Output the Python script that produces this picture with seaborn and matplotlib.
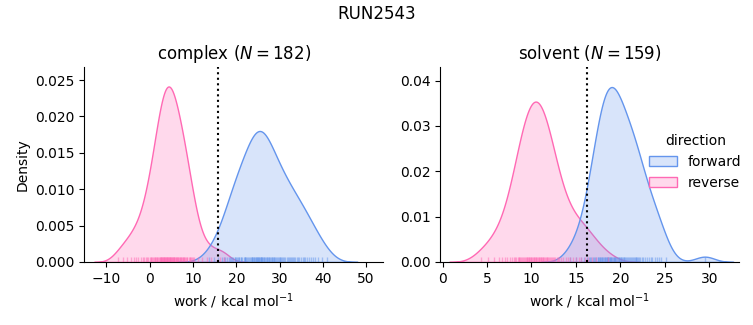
import matplotlib
matplotlib.use("Agg")
import matplotlib.pyplot as plt
import pandas as pd
import seaborn as sns

complex_forward = [
    13.6, 14.8, 15.7, 16.7, 17.1, 17.4, 17.9, 18.3, 18.6, 18.7, 19.0, 19.2, 19.6, 19.8, 19.9,
    20.2, 20.4, 20.6, 20.7, 21.0, 21.2, 21.4, 21.7, 21.9, 22.0, 22.1,
    22.3, 22.5, 22.7, 23.0, 23.2, 23.4,
    23.55, 23.6, 23.7, 23.85, 24.0, 24.15, 24.3, 24.45,
    24.6, 24.75, 24.9, 25.0, 25.05, 25.2, 25.35, 25.45,
    25.6, 25.75, 25.8, 25.9, 26.05, 26.2, 26.35, 26.45,
    26.6, 26.8, 27.0, 27.15, 27.3, 27.45,
    27.6, 27.8, 28.0, 28.15, 28.3, 28.45,
    28.6, 28.8, 29.0, 29.2, 29.4,
    29.6, 29.8, 30.0, 30.2, 30.4,
    30.6, 30.85, 31.1, 31.35,
    31.6, 31.85, 32.1, 32.35,
    32.6, 32.85, 33.1, 33.35,
    33.6, 33.95, 34.3,
    34.6, 34.95, 35.3,
    35.6, 35.95, 36.3,
    36.7, 37.2, 37.7, 38.2, 38.9, 39.8, 40.9,
]
complex_reverse = [
    -7.4, -6.1, -5.2, -4.4, -3.7, -3.2, -2.6, -2.1, -1.6,
    -1.3, -0.9, -0.6, -0.3, 0.0, 0.2, 0.4, 0.5, 0.8, 1.0, 1.2, 1.3,
    1.4, 1.6, 1.7, 1.9, 2.2, 2.3, 2.4, 2.5,
    2.6, 2.7, 2.8, 2.9, 3.0, 3.1, 3.2, 3.3, 3.4,
    3.5, 3.6, 3.7, 3.8, 3.9, 4.0, 4.1, 4.2, 4.3, 4.4,
    4.5, 4.6, 4.7, 4.8, 4.9, 5.0, 5.1, 5.2, 5.3, 5.4,
    5.5, 5.6, 5.7, 5.8, 6.0, 6.1, 6.2, 6.4, 6.5,
    6.6, 6.8, 7.0, 7.1, 7.2, 7.3, 7.4,
    7.6, 7.75, 7.9, 8.0, 8.2, 8.4, 8.6, 8.7, 9.0, 9.2, 9.4, 9.6, 9.8, 10.1, 10.3,
    11.1, 12.0, 13.2, 14.1, 16.2, 17.1,
]
solvent_forward = [
    14.3, 15.0, 15.6, 15.9, 16.3,
    16.5, 16.6, 16.75, 16.9, 17.0, 17.15, 17.3, 17.45,
    17.5, 17.58, 17.66, 17.74, 17.82, 17.9, 17.98, 18.06, 18.14, 18.22, 18.3, 18.38, 18.46,
    18.52, 18.58, 18.65, 18.72, 18.78, 18.85, 18.92, 18.98, 19.05, 19.18, 19.25,
    19.32, 19.38, 19.45,
    19.55, 19.63, 19.71, 19.8, 19.88, 19.96, 20.04, 20.12, 20.2, 20.28, 20.36, 20.44,
    20.55, 20.66, 20.77, 20.88, 21.0, 21.1, 21.2, 21.32, 21.44,
    21.55, 21.66, 21.77, 21.8, 21.9, 22.0, 22.12, 22.25, 22.4,
    22.6, 22.8, 23.0, 23.2, 23.4,
    23.6, 23.85, 24.1, 24.35, 24.6, 25.1, 29.5,
]
solvent_reverse = [
    4.3, 5.1, 5.8, 6.3, 6.7, 7.0, 7.3,
    7.6, 7.8, 8.0, 8.2, 8.3, 8.45,
    8.55, 8.65, 8.75, 8.85, 8.95, 9.05, 9.15, 9.25, 9.35, 9.45,
    9.52, 9.6, 9.68, 9.76, 9.84, 9.92, 10.0, 10.08, 10.16, 10.24, 10.32, 10.4, 10.48,
    10.55, 10.63, 10.71, 10.79, 10.87, 10.95, 11.03, 11.11, 11.19, 11.27, 11.35, 11.43, 11.49,
    11.6, 11.7, 11.8, 11.9, 12.0, 12.1, 12.2, 12.3, 12.4,
    12.55, 12.7, 12.85, 13.0, 13.15, 13.35,
    13.6, 13.85, 14.1, 14.35, 14.7, 15.0, 15.3,
    15.6, 16.0, 16.4, 16.8, 17.3, 18.6,
]
complex_delta_f = 15.8
solvent_delta_f = 16.2
n_cycles = [182, 159]          # N shown in the titles (cycles per direction)

phases = ["complex", "solvent"]
directions = ["forward", "reverse"]
palette = {"forward": "cornflowerblue", "reverse": "hotpink"}


def make_frame(fwd, rev):
    return pd.concat(
        [pd.DataFrame({"work": fwd, "direction": "forward"}),
         pd.DataFrame({"work": rev, "direction": "reverse"})],
        ignore_index=True,
    )


fig, axes = plt.subplots(1, 2, figsize=(7.53, 3.25), dpi=100)
fig.subplots_adjust(left=0.112, right=0.982, bottom=0.194, top=0.794, wspace=0.19)

sets = [
    (complex_forward, complex_reverse, complex_delta_f, (-15.1, 54.0), (0, 0.0268)),
    (solvent_forward, solvent_reverse, solvent_delta_f, (-0.26, 33.4), (0, 0.043)),
]
for i, (ax, phase, n, (fwd, rev, dF, xl, yl)) in enumerate(zip(axes, phases, n_cycles, sets)):
    df = make_frame(fwd, rev)
    # failed cycles: counted in the common normalisation, not drawn
    failed = df.head(2 * n - len(df)).assign(direction="failed")
    full = pd.concat([df, failed], ignore_index=True)
    sns.kdeplot(data=full, x="work", hue="direction", hue_order=directions,
                palette=palette, fill=True, common_norm=True, ax=ax,
                legend=(i == 1))
    sns.rugplot(data=df, x="work", hue="direction", hue_order=directions,
                palette=palette, alpha=0.5, ax=ax, legend=False)
    ax.axvline(dF, color="k", linestyle=":", linewidth=1.5)
    ax.set_xlim(*xl)
    ax.set_ylim(*yl)
    ax.set_title(f"{phase} ($N={n}$)")
    ax.set_xlabel("work / kcal mol$^{-1}$")
    ax.set_ylabel("Density" if i == 0 else "")
    sns.despine(ax=ax)

sns.move_legend(axes[1], "center left", bbox_to_anchor=(0.656, 0.513), frameon=False)
fig.suptitle("RUN2543", y=0.985)
fig.savefig("out.png", dpi=100)
